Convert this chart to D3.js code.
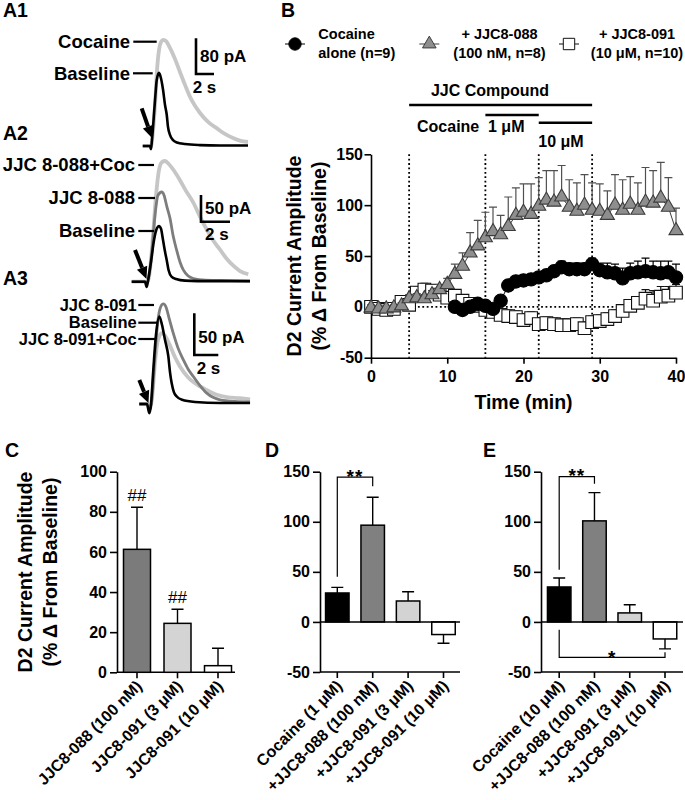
<!DOCTYPE html>
<html>
<head>
<meta charset="utf-8">
<script src="https://cdn.jsdelivr.net/npm/d3@7/dist/d3.min.js"></script>
<style>
html,body{margin:0;padding:0;background:#fff;}
svg{display:block;}
text{font-family:"Liberation Sans",Arial,Helvetica,sans-serif;font-weight:bold;fill:#000;}
</style>
</head>
<body>
<svg id="fig" width="685" height="800"></svg>
<script>
// ================= DATA =================
// Panel A: example current traces, [time (s), current (pA)]
const a1Labels = ["Cocaine", "Baseline"];
const a1Baseline = [[0,0],[0.81,0],[0.92,-7],[1.03,13],[1.37,103],[1.56,148],[1.81,164],[2.03,152],[2.26,126],[2.48,92],[2.67,70],[2.81,43],[3.03,25],[3.37,13],[3.81,8],[4.7,4.5],[6.37,2],[8.6,1],[11.7,1]];
const a1Cocaine = [[0,0],[0.81,0],[0.92,-4],[1.03,11],[1.37,92],[1.59,170],[1.81,215],[2.03,233],[2.29,238],[2.59,235],[3.03,220],[3.59,195],[4.14,166],[4.7,137],[5.26,110],[5.81,90],[6.37,74],[7.26,54],[8.22,40],[9.14,27],[10.03,18],[10.8,12],[11.7,9]];

const a2Labels = ["JJC 8-088+Coc", "JJC 8-088", "Baseline"];
const a2Baseline = [[0,0],[0.92,0],[1.03,-10],[1.12,1],[1.33,37],[1.54,78],[1.74,100],[1.88,104],[2.02,99],[2.16,78],[2.3,56],[2.41,41],[2.54,22],[2.76,9],[3.06,5],[3.68,2],[5.4,1],[8.16,1]];
const a2JJC088 = [[0,0],[0.92,0],[1.03,-6],[1.19,11],[1.4,59],[1.61,125],[1.81,162],[2.07,168],[2.23,162],[2.43,140],[2.64,119],[2.85,87],[3.1,59],[3.33,37],[3.56,22],[3.88,11],[4.25,6],[5.06,3],[6.78,2],[8.16,1]];
const a2JJC088Coc = [[0,0],[0.92,0],[1.06,-2],[1.26,22],[1.47,87],[1.68,162],[1.88,209],[2.09,224],[2.3,226],[2.57,220],[2.99,205],[3.33,190],[3.7,172],[4.25,148],[4.71,122],[5.17,98],[5.6,78],[6.09,60],[6.55,43],[7.01,30],[7.47,20],[8.04,14]];

const a3Labels = ["JJC 8-091", "Baseline", "JJC 8-091+Coc"];
const a3Baseline = [[0,0],[0.64,0],[0.83,-11],[0.98,0],[1.14,35],[1.39,83],[1.67,105],[1.89,95],[2.14,77],[2.42,57],[2.56,38],[2.7,25],[2.89,14],[3.12,9],[3.56,5],[4.64,2.4],[6.73,1.2],[9.23,1.2]];
const a3JJC091 = [[0,0],[0.64,0],[0.89,-7],[1.06,7],[1.31,59],[1.56,101],[1.77,116],[2,120],[2.23,116],[2.48,103],[2.83,85],[3.23,67],[3.67,53],[4.06,42],[4.5,33],[5.06,22],[5.62,13],[6.14,8],[6.73,5],[7.98,3],[9.23,2.4]];
const a3JJC091Coc = [[0,0],[0.64,0],[0.89,-5],[1.06,7],[1.31,50],[1.56,77],[1.87,85],[2.14,82],[2.56,70],[2.98,56],[3.39,45],[4.06,32],[5.06,21],[5.73,16],[6.45,11],[7.39,8],[8.39,7],[9.23,5.4]];

const scaleBarPA = [80, 50, 50];
const scaleBarS = [2, 2, 2];

// Panel B: time course (% change from baseline)
const bTime = [0,1,2,3,4,5,6,7,8,9,10,11,12,13,14,15,16,17,18,19,20,21,22,23,24,25,26,27,28,29,30,31,32,33,34,35,36,37,38,39,40];
const jjc088 = [-1,-2,-2,-1,1,8,9,8,12,17,22,32,40,53,60,68,74,71,79,90,93,91,99,105,103,108,98,94,100,95,94,90,100,95,101,95,103,102,107,98,75];
const jjc088Sem = [3,3,3,3,3,4,4,4,4,5,6,10,13,20,25,25,24,19,29,27,28,30,28,29,31,31,27,28,30,27,27,24,30,30,27,27,34,32,35,29,22];
const jjc091 = [0,-2,-3,-2,5,2,14,17,16,12,9,11,6,3,1,-3,-5,-8,-9,-10,-13,-11,-17,-16,-17,-18,-18,-17,-21,-15,-14,-12,-9,-4,1,4,8,6,10,11,14];
const jjc091Sem = [3,3,3,3,4,5,6,6,6,6,5,6,6,5,5,5,6,6,6,6,6,6,6,6,6,6,6,6,6,6,6,6,6,6,6,6,9,10,10,9,8];
const cocTime = [11,12,13,14,15,16,17,18,19,20,21,22,23,24,25,26,27,28,29,30,31,32,33,34,35,36,37,38,39,40];
const cocAlone = [0,-3,0,3,1,-2,6,21,25,26,27,29,31,35,39,37,37,37,42,36,34,33,28,33,34,35,34,33,34,29];
const cocAloneSem = [3,3,3,3,3,3,3,5,5,5,5,5,5,5,6,6,6,6,6,7,9,9,10,10,11,13,11,12,11,13];
const bPeriods = [5, 15, 22, 29];
const bZeroSpan = [5, 33];
const bXTicks = [0, 10, 20, 30, 40];
const bYTicks = [-50, 0, 50, 100, 150];
const bLegend = [["Cocaine","alone (n=9)"],["+ JJC8-088","(100 nM, n=8)"],["+ JJC8-091","(10 \u03bcM, n=10)"]];
const bTreat = [["JJC Compound",5,29],["1 \u03bcM",15,22],["10 \u03bcM",22,29]];

// Panel C
const cCats = ["JJC8-088 (100 nM)", "JJC8-091 (3 \u03bcM)", "JJC8-091 (10 \u03bcM)"];
const cVals = [61.3, 24.4, 3.3];
const cSem = [21.0, 7.0, 8.7];
const cMarks = ["##", "##", ""];
const cYTicks = [0, 20, 40, 60, 80, 100];

// Panel D
const dCats = ["Cocaine (1 \u03bcM)", "+JJC8-088 (100 nM)", "+JJC8-091 (3 \u03bcM)", "+JJC8-091 (10 \u03bcM)"];
const dVals = [28.9, 96.6, 20.9, -12.6];
const dSem = [5.6, 27.9, 9.3, 8.7];

// Panel E
const eCats = ["Cocaine (10 \u03bcM)", "+JJC8-088 (100 nM)", "+JJC8-091 (3 \u03bcM)", "+JJC8-091 (10 \u03bcM)"];
const eVals = [34.9, 100.9, 9.0, -17.0];
const eSem = [8.9, 28.2, 8.2, 9.9];
const deYTicks = [-50, 0, 50, 100, 150];

// ================= DRAW =================
const svg = d3.select("#fig");
const BK = "#000", DG = "#7d7d7d", LG = "#c6c6c6";
const fmt = d => String(d);

function txt(g, x, y, s, size, anchor, weight) {
  return g.append("text").attr("x", x).attr("y", y).attr("font-size", size)
    .attr("text-anchor", anchor || "start").style("font-weight", weight || "bold").text(s);
}

// panel letters
[["A1",3,17],["A2",3,140],["A3",3,285],["B",281,17],["C",5,457],["D",265,457],["E",483,457]]
  .forEach(d => txt(svg, d[1], d[2], d[0], 19.5));

// ---------- Panel A ----------
const aLayout = [
  {x0:142.7, base:146, pps:9, ppa:0.446, fs:18.5,
   traces:[[a1Cocaine,LG,3.8],[a1Baseline,BK,2.6]],
   labels:a1Labels, labY:[41.7,73.3], labLine:[[133.3,156.7],[133,152.7]], labX:130,
   bar:[196,74], paPos:[200,61.5], sPos:[192.7,93.3], arrow:[141.7,108.3,152,138]},
  {x0:131.7, base:281.7, pps:14.5, ppa:0.534, fs:18.5,
   traces:[[a2JJC088Coc,LG,3.8],[a2JJC088,DG,2.8],[a2Baseline,BK,2.6]],
   labels:a2Labels, labY:[165,198,231], labLine:[[138.3,154],[138.3,155],[138.3,154]], labX:135,
   bar:[201,221.7], paPos:[205,214], sPos:[205,240], arrow:[135,250,146.5,279]},
  {x0:139.3, base:404, pps:12, ppa:0.834, fs:16.5,
   traces:[[a3JJC091Coc,LG,3.8],[a3JJC091,DG,2.8],[a3Baseline,BK,2.6]],
   labels:a3Labels, labY:[305,322.7,339], labLine:[[138.3,154],[138.3,158],[138.3,156]], labX:136.7,
   bar:[194.3,355], paPos:[198.3,343.3], sPos:[196.7,374], arrow:[139.3,380,148.5,403]}
];

aLayout.forEach((L, i) => {
  const g = svg.append("g");
  const tMax = d3.max(L.traces, tr => d3.max(tr[0], d => d[0]));
  const x = d3.scaleLinear().domain([0, tMax]).range([L.x0, L.x0 + tMax * L.pps]);
  const y = d3.scaleLinear().domain([0, 100]).range([L.base, L.base - 100 * L.ppa]);
  const line = d3.line().x(d => x(d[0])).y(d => y(d[1])).curve(d3.curveMonotoneX);
  L.traces.forEach(tr => {
    g.append("path").attr("d", line(tr[0])).attr("fill", "none").attr("stroke", tr[1])
      .attr("stroke-width", tr[2]).attr("stroke-linejoin", "round");
  });
  L.labels.forEach((s, j) => {
    txt(g, L.labX, L.labY[j] + L.fs * 0.35, s, L.fs, "end");
    g.append("line").attr("x1", L.labLine[j][0]).attr("x2", L.labLine[j][1])
      .attr("y1", L.labY[j]).attr("y2", L.labY[j]).attr("stroke", BK).attr("stroke-width", 2.2);
  });
  const bx = L.bar[0], by = L.bar[1];
  const sx = d3.scaleLinear().domain([0, 1]).range([0, L.pps]);
  const sy = d3.scaleLinear().domain([0, 1]).range([0, L.ppa]);
  g.append("path").attr("d", `M${bx},${by - sy(scaleBarPA[i])}V${by}H${bx + sx(scaleBarS[i])}`)
    .attr("fill", "none").attr("stroke", BK).attr("stroke-width", 2.6);
  txt(g, L.paPos[0], L.paPos[1], scaleBarPA[i] + " pA", 17);
  txt(g, L.sPos[0], L.sPos[1], scaleBarS[i] + " s", 17);
  const [x1, y1, x2, y2] = L.arrow;
  const len = Math.hypot(x2 - x1, y2 - y1), ux = (x2 - x1) / len, uy = (y2 - y1) / len;
  const hl = 12, hw = 5.5, bxh = x2 - hl * ux, byh = y2 - hl * uy;
  g.append("line").attr("x1", x1).attr("y1", y1).attr("x2", bxh).attr("y2", byh)
    .attr("stroke", BK).attr("stroke-width", 4);
  g.append("path").attr("d", `M${x2},${y2}L${bxh - hw * uy},${byh + hw * ux}L${bxh + hw * uy},${byh - hw * ux}Z`).attr("fill", BK);
});

// ---------- Panel B ----------
const xB = d3.scaleLinear().domain([0, 40]).range([371, 676]);
const yB = d3.scaleLinear().domain([-50, 150]).range([357.7, 154.3]);
const gB = svg.append("g");

function styleAxis(g, fs) {
  g.attr("font-size", fs);
  g.selectAll("path,line").attr("stroke", BK).attr("stroke-width", 1.6);
  g.selectAll("text").style("font-weight", "bold");
}

gB.selectAll(".vd").data(bPeriods).join("line")
  .attr("x1", d => xB(d)).attr("x2", d => xB(d)).attr("y1", yB(150)).attr("y2", yB(-50))
  .attr("stroke", BK).attr("stroke-width", 1.8).attr("stroke-dasharray", "1.8,2.6");
gB.append("line").attr("x1", xB(bZeroSpan[0])).attr("x2", xB(bZeroSpan[1]))
  .attr("y1", yB(0)).attr("y2", yB(0)).attr("stroke", BK).attr("stroke-width", 1.8).attr("stroke-dasharray", "1.8,2.6");

gB.append("g").attr("transform", `translate(0,${yB(-50)})`)
  .call(d3.axisBottom(xB).tickValues(bXTicks).tickFormat(fmt).tickSize(6).tickPadding(7).tickSizeOuter(0))
  .call(g => styleAxis(g, 16));
gB.append("g").attr("transform", `translate(${xB(0)},0)`)
  .call(d3.axisLeft(yB).tickValues(bYTicks).tickFormat(fmt).tickSize(6.5).tickPadding(1.5).tickSizeOuter(0))
  .call(g => styleAxis(g, 16));

txt(gB, (xB(0) + xB(40)) / 2, 409, "Time (min)", 19.5, "middle");
function yTitle(g, x1, x2, cy) {
  g.append("text").attr("transform", `translate(${x1},${cy}) rotate(-90)`).attr("text-anchor", "middle")
    .attr("font-size", 19.5).text("D2 Current Amplitude");
  g.append("text").attr("transform", `translate(${x2},${cy}) rotate(-90)`).attr("text-anchor", "middle")
    .attr("font-size", 19.5).text("(% \u0394 From Baseline)");
}
yTitle(gB, 301, 326, (yB(-50) + yB(150)) / 2);

const triFill = "#8e8e8e", triStroke = "#3c3c3c";
function series(times, vals, sems, sym, size, fill, stroke, errColor) {
  const g = gB.append("g");
  const pts = times.map((t, i) => ({t: t, v: vals[i], s: sems[i]}));
  g.append("path").attr("d", d3.line().x(d => xB(d.t)).y(d => yB(d.v))(pts))
    .attr("fill", "none").attr("stroke", stroke).attr("stroke-width", 1);
  g.selectAll(".eb").data(pts).join("path")
    .attr("d", d => `M${xB(d.t)},${yB(d.v)}V${yB(d.v + d.s)}M${xB(d.t) - 4},${yB(d.v + d.s)}H${xB(d.t) + 4}`)
    .attr("fill", "none").attr("stroke", errColor).attr("stroke-width", 1.2);
  g.selectAll(".mk").data(pts).join("path")
    .attr("transform", d => `translate(${xB(d.t)},${yB(d.v)})`)
    .attr("d", d3.symbol(sym, size)()).attr("fill", fill).attr("stroke", stroke).attr("stroke-width", 1.1);
}
series(bTime, jjc091, jjc091Sem, d3.symbolSquare, 160, "#fff", "#111", "#111");
series(bTime, jjc088, jjc088Sem, d3.symbolTriangle, 85, triFill, triStroke, "#505050");
series(cocTime, cocAlone, cocAloneSem, d3.symbolCircle, 140, BK, BK, BK);

// legend
const legX = [295, 429.3, 569];
const legSym = [[d3.symbolCircle, 120, BK, BK], [d3.symbolTriangle, 80, triFill, triStroke], [d3.symbolSquare, 130, "#fff", "#111"]];
legX.forEach((cx, i) => {
  gB.append("line").attr("x1", cx - 10).attr("x2", cx + 10).attr("y1", 44).attr("y2", 44)
    .attr("stroke", legSym[i][3]).attr("stroke-width", 1);
  gB.append("path").attr("transform", `translate(${cx},44)`).attr("d", d3.symbol(legSym[i][0], legSym[i][1])())
    .attr("fill", legSym[i][2]).attr("stroke", legSym[i][3]).attr("stroke-width", 1);
});
txt(gB, 318.3, 39.3, bLegend[0][0], 14.5);
txt(gB, 318.3, 58.3, bLegend[0][1], 14.5);
txt(gB, 499.5, 39.3, bLegend[1][0], 14.5, "middle");
txt(gB, 499.5, 58.3, bLegend[1][1], 14.5, "middle");
txt(gB, 637, 39.3, bLegend[2][0], 14.5, "middle");
txt(gB, 637, 58.3, bLegend[2][1], 14.5, "middle");

// treatment bars
const treatY = [105, 115, 122.7];
bTreat.forEach((d, i) => {
  gB.append("line").attr("x1", xB(d[1])).attr("x2", xB(d[2])).attr("y1", treatY[i]).attr("y2", treatY[i])
    .attr("stroke", BK).attr("stroke-width", 2.6);
});
txt(gB, 490, 96, bTreat[0][0], 16, "middle");
txt(gB, 417, 131.5, "Cocaine", 16);
txt(gB, 488, 131.5, bTreat[1][0], 16);
txt(gB, 561, 146.5, bTreat[2][0], 16, "middle");

// ---------- Bar panels ----------
function barPanel(o) {
  const g = svg.append("g");
  const y = d3.scaleLinear().domain(o.ydom).range(o.yrange);
  const x = d3.scalePoint().domain(o.cats).range(o.xrange);
  const bottom = y(o.ydom[0]);
  g.append("g").attr("transform", `translate(${o.axisX},0)`)
    .call(d3.axisLeft(y).tickValues(o.yticks).tickFormat(fmt).tickSize(7).tickPadding(3).tickSizeOuter(0))
    .call(a => styleAxis(a, 16));
  g.append("line").attr("x1", o.axisX).attr("x2", o.axisEnd).attr("y1", bottom).attr("y2", bottom)
    .attr("stroke", BK).attr("stroke-width", 1.6);
  g.selectAll(".xt").data(o.cats).join("line")
    .attr("x1", d => x(d)).attr("x2", d => x(d)).attr("y1", bottom).attr("y2", bottom + 6)
    .attr("stroke", BK).attr("stroke-width", 1.6);
  const data = o.cats.map((c, i) => ({c: c, v: o.vals[i], s: o.sem[i], col: o.colors[i]}));
  g.selectAll(".eb").data(data).join("path")
    .attr("d", d => {
      const e = d.v >= 0 ? d.v + d.s : d.v - d.s;
      return `M${x(d.c)},${y(d.v)}V${y(e)}M${x(d.c) - 6},${y(e)}H${x(d.c) + 6}`;
    })
    .attr("fill", "none").attr("stroke", BK).attr("stroke-width", 1.4);
  g.selectAll(".bar").data(data).join("rect")
    .attr("x", d => x(d.c) - o.bw / 2).attr("width", o.bw)
    .attr("y", d => Math.min(y(d.v), y(0))).attr("height", d => Math.abs(y(d.v) - y(0)))
    .attr("fill", d => d.col).attr("stroke", BK).attr("stroke-width", 1.5);
  if (o.ydom[0] < 0) {
    g.append("line").attr("x1", o.axisX).attr("x2", o.axisEnd).attr("y1", y(0)).attr("y2", y(0))
      .attr("stroke", BK).attr("stroke-width", 1.6);
  }
  g.selectAll(".xl").data(o.cats).join("text")
    .attr("transform", d => `translate(${x(d) + 6},${bottom + 15}) rotate(-45)`)
    .attr("text-anchor", "end").attr("font-size", 16).text(d => d);
  return {g: g, x: x, y: y, data: data};
}

const C = barPanel({cats: cCats, vals: cVals, sem: cSem, colors: ["#7b7b7b", "#d4d4d4", "#fff"],
  ydom: [0, 100], yrange: [672.3, 471.7], xrange: [137, 218], axisX: 117, axisEnd: 235, bw: 27, yticks: cYTicks});
yTitle(C.g, 32, 57, (672.3 + 471.7) / 2);
C.data.forEach((d, i) => {
  if (cMarks[i]) txt(C.g, C.x(d.c), C.y(d.v + d.s) - 6, cMarks[i], 17, "middle", "normal");
});

const D = barPanel({cats: dCats, vals: dVals, sem: dSem, colors: [BK, "#808080", "#d3d3d3", "#fff"],
  ydom: [-50, 150], yrange: [672, 471.7], xrange: [337.3, 443.5], axisX: 320, axisEnd: 460, bw: 23.5, yticks: deYTicks});
const E = barPanel({cats: eCats, vals: eVals, sem: eSem, colors: [BK, "#808080", "#d3d3d3", "#fff"],
  ydom: [-50, 150], yrange: [672, 471.7], xrange: [559.2, 665], axisX: 541, axisEnd: 683, bw: 23.5, yticks: deYTicks});

function bracket(P, i, j, vLeft, vTop, vRight, mark, markDy) {
  const xl = P.x(P.data[i].c), xr = P.x(P.data[j].c);
  P.g.append("path").attr("d", `M${xl},${P.y(vLeft)}V${P.y(vTop)}H${xr}V${P.y(vRight)}`)
    .attr("fill", "none").attr("stroke", BK).attr("stroke-width", 1.2);
  P.g.append("text").attr("x", (xl + xr) / 2).attr("y", P.y(vTop) + markDy).attr("text-anchor", "middle")
    .attr("font-size", 19).attr("letter-spacing", 1).text(mark);
}
bracket(D, 0, 1, 45, 144.5, 135.5, "**", 5.5);
bracket(E, 0, 1, 52, 145, 138, "**", 5.5);
(function () {
  const xl = E.x(E.data[0].c), xr = E.x(E.data[3].c);
  E.g.append("path").attr("d", `M${xl},${E.y(-7.7)}V${E.y(-35.3)}H${xr}V${E.y(-30.3)}`)
    .attr("fill", "none").attr("stroke", BK).attr("stroke-width", 1.2);
  E.g.append("text").attr("x", 611.7).attr("y", E.y(-35.3) + 6.5).attr("text-anchor", "middle")
    .attr("font-size", 19).text("*");
})();
</script>
</body>
</html>
